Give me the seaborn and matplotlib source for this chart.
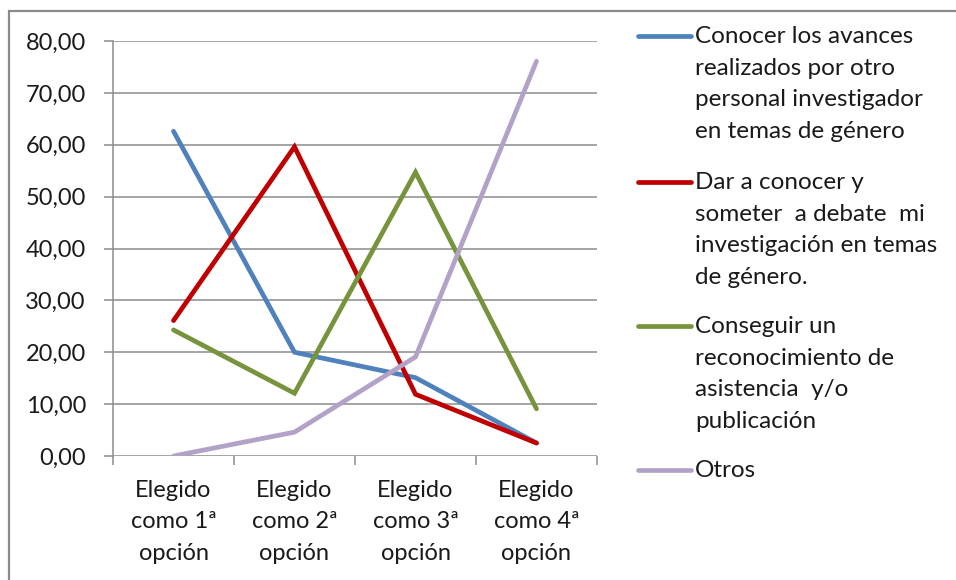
import pandas as pd
import seaborn as sns
import matplotlib.pyplot as plt
from matplotlib.lines import Line2D
from matplotlib.patches import Rectangle
from matplotlib.ticker import FixedLocator, FuncFormatter

# Datos (porcentajes)
categorias = ["Elegido\ncomo 1ª\nopción", "Elegido\ncomo 2ª\nopción",
              "Elegido\ncomo 3ª\nopción", "Elegido\ncomo 4ª\nopción"]
conocer_avances = [62.6, 20.0, 15.1, 2.5]
dar_a_conocer = [26.1, 59.6, 11.9, 2.5]
conseguir_reconocimiento = [24.3, 12.1, 54.7, 9.1]
otros = [0.0, 4.6, 19.1, 76.1]

series = ["Conocer los avances\nrealizados por otro\npersonal investigador\nen temas de género",
          "Dar a conocer y\nsometer  a debate  mi\ninvestigación en temas\nde género.",
          "Conseguir un\nreconocimiento de\nasistencia  y/o\npublicación",
          "Otros"]
colores = ["#4F81BD", "#C00000", "#77933C", "#B3A2C7"]
yticks = [0, 10, 20, 30, 40, 50, 60, 70, 80]


def build_df():
    valores = [conocer_avances, dar_a_conocer, conseguir_reconocimiento, otros]
    filas = []
    for nombre, vals in zip(series, valores):
        for i, v in enumerate(vals):
            filas.append({"pos": i, "serie": nombre, "valor": v})
    return pd.DataFrame(filas)


def px(x, y):
    # pixeles -> coordenadas de figura
    return x / 956, 1 - y / 580


def main():
    df = build_df()
    sns.set_style("white")
    plt.rcParams["font.family"] = ["Lato", "DejaVu Sans"]
    plt.rcParams["text.color"] = "#1A1A1A"

    fig = plt.figure(figsize=(9.56, 5.8), dpi=100)
    l, t = px(113, 41)
    r, b = px(597, 456)
    ax = fig.add_axes([l, b, r - l, t - b])

    sns.lineplot(data=df, x="pos", y="valor", hue="serie", hue_order=series,
                 palette=colores, linewidth=3.4, legend=False, ax=ax,
                 solid_capstyle="round", solid_joinstyle="miter")

    ax.set_xlim(-0.5, 3.5)
    ax.set_ylim(0, 80)
    ax.set_xlabel("")
    ax.set_ylabel("")

    ax.set_yticks(yticks)
    ax.yaxis.set_major_formatter(FuncFormatter(lambda v, p: f"{v:.2f}".replace(".", ",")))
    ax.grid(axis="y", color="#8C8C8C", linewidth=1.1)
    ax.set_axisbelow(True)

    ax.set_xticks(range(len(categorias)))
    ax.set_xticklabels(categorias, linespacing=1.62)
    ax.xaxis.set_minor_locator(FixedLocator([-0.5, 0.5, 1.5, 2.5, 3.5]))
    ax.tick_params(axis="x", which="major", length=0, pad=17, labelsize=17,
                   labelcolor="#1A1A1A")
    ax.tick_params(axis="x", which="minor", length=6.5, width=1.1,
                   color="#8C8C8C", direction="out", bottom=True)
    ax.tick_params(axis="y", which="major", length=6.5, width=1.1, pad=13,
                   color="#8C8C8C", left=True, labelsize=17, labelcolor="#1A1A1A")

    for lado in ["top", "right", "bottom"]:
        ax.spines[lado].set_visible(False)
    ax.spines["left"].set_color("#8C8C8C")
    ax.spines["left"].set_linewidth(1.1)

    # leyenda a la derecha, dibujada a mano para alinear con la primera linea
    tops = [36, 182, 326, 470]
    for nombre, color, yc in zip(series, colores, tops):
        x0, y0 = px(638, yc)
        x1, _ = px(691, yc)
        fig.add_artist(Line2D([x0, x1], [y0, y0], color=color, linewidth=3.4,
                              solid_capstyle="round"))
        tx, ty = px(695, yc - 10)
        fig.text(tx, ty, nombre, ha="left", va="top", fontsize=17.5, linespacing=1.62)

    # marco del grafico (solo se ven los bordes izquierdo y superior)
    fx, fy = px(9, 11)
    fig.add_artist(Rectangle((fx, -0.2), 1.2, fy + 0.2, transform=fig.transFigure,
                             fill=False, edgecolor="#8A8A8A", linewidth=1.6))

    fig.savefig("out.png", dpi=100)
    plt.close(fig)


if __name__ == "__main__":
    main()
